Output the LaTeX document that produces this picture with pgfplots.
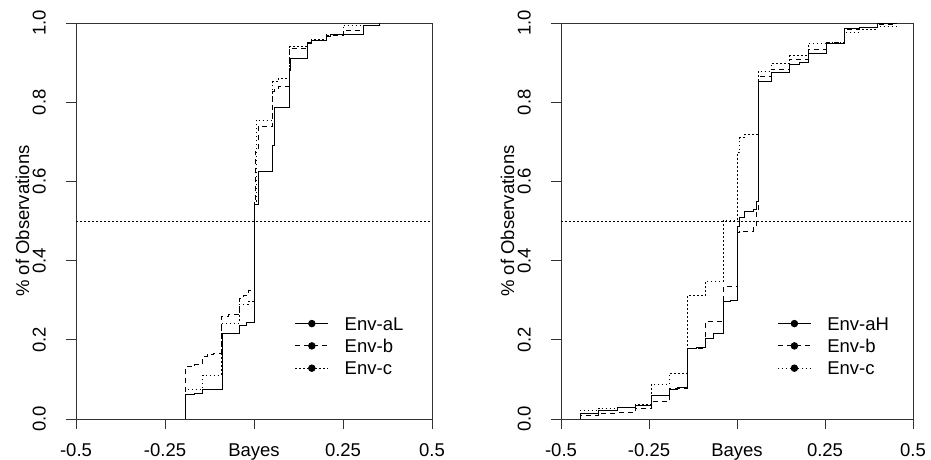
\documentclass[border=0pt]{standalone}
\usepackage{pgfplots}
\pgfplotsset{compat=1.18}
\usepackage{fontspec}
\setmainfont{Liberation Sans}

\newcommand{\lblfont}{\fontsize{18.5}{21}\selectfont}

\pgfplotsset{
  ecdfpanel/.style={
    scale only axis, height=396pt,
    xmin=-0.5, xmax=0.5, ymin=0, ymax=1,
    xtick={-0.5,-0.25,0,0.25,0.5},
    xticklabels={-0.5,-0.25,Bayes,0.25,0.5},
    ytick={0,0.2,0.4,0.6,0.8,1},
    yticklabels={0.0,0.2,0.4,0.6,0.8,1.0},
    xtick pos=left, ytick pos=left,
    tick align=outside, major tick length=10pt,
    axis line style={line width=0.8pt, black!80},
    every tick/.style={line width=0.8pt, black!80},
    tick label style={font=\lblfont, inner sep=0pt},
    xticklabel style={anchor=base, yshift=-27.5pt},
    yticklabel style={xshift=-20.5pt, rotate=90, anchor=base},
    ylabel={\% of Observations},
    legend style={draw=none, fill=none, inner sep=0pt, outer sep=0pt,
      at={(rel axis cs:0.615,0.258)}, anchor=north west,
      font=\lblfont, row sep=8.8pt,
      /tikz/every odd column/.append style={column sep=16pt},
      nodes={inner sep=0pt, text height=13.5pt, text depth=0pt}},
    legend cell align=left,
    legend image code/.code={
      \draw[##1, mark=*, mark size=3.3pt, mark options={solid, fill=black},
        mark repeat=2, mark phase=2]
        plot coordinates {(0pt,0pt) (16.5pt,0pt) (33pt,0pt)};
    },
  },
  sA/.style={black, line width=0.8pt, const plot},
  sB/.style={black, line width=0.8pt, const plot, dash pattern=on 5pt off 4pt},
  sC/.style={black, line width=0.8pt, const plot, dash pattern=on 1.5pt off 2.5pt},
}

\begin{document}
\begin{tikzpicture}
\path[use as bounding box] (0pt,0pt) rectangle (931pt,459pt);

% ---------------- low-variance environment ----------------
\begin{axis}[ecdfpanel, width=356pt, at={(76pt,40pt)}, anchor=south west,
  every axis y label/.style={at={(axis description cs:-0.1320,0.5)},
    rotate=90, anchor=base, font=\lblfont, inner sep=0pt}]
\addplot[sA] coordinates {
 (-0.192,0) (-0.192,0.061) (-0.167,0.065) (-0.144,0.075) (-0.090,0.216)
 (-0.041,0.237) (-0.020,0.243) (0.0,0.542) (0.011,0.625) (0.053,0.690)
 (0.056,0.787) (0.100,0.880) (0.103,0.911) (0.151,0.949) (0.161,0.956)
 (0.203,0.966) (0.214,0.970) (0.250,0.970) (0.306,0.993) (0.353,1.0)};
\addlegendentry{Env-aL}
\addplot[sB] coordinates {
 (-0.192,0) (-0.192,0.132) (-0.167,0.137) (-0.144,0.157) (-0.132,0.163)
 (-0.115,0.166) (-0.092,0.258) (-0.072,0.264) (-0.041,0.305) (-0.030,0.312)
 (-0.016,0.326) (0.0,0.55) (0.003,0.675) (0.011,0.738) (0.053,0.827)
 (0.058,0.835) (0.068,0.840) (0.100,0.936) (0.151,0.950) (0.161,0.956)
 (0.203,0.968) (0.250,0.982) (0.306,0.993) (0.353,1.0)};
\addlegendentry{Env-b}
\addplot[sC] coordinates {
 (-0.192,0) (-0.192,0.075) (-0.144,0.111) (-0.092,0.242) (-0.041,0.290)
 (-0.016,0.296) (0.0,0.55) (0.006,0.755) (0.053,0.852) (0.068,0.860)
 (0.100,0.940) (0.151,0.950) (0.161,0.958) (0.203,0.970) (0.250,0.995)
 (0.306,0.995) (0.353,1.0)};
\addlegendentry{Env-c}
\addplot[sC, forget plot] coordinates {(-0.5,0.5) (0.5,0.5)};
\end{axis}

% ---------------- high-variance environment ----------------
\begin{axis}[ecdfpanel, width=352pt, at={(561pt,40pt)}, anchor=south west,
  every axis y label/.style={at={(axis description cs:-0.1335,0.5)},
    rotate=90, anchor=base, font=\lblfont, inner sep=0pt}]
\addplot[sA] coordinates {
 (-0.445,0) (-0.445,0.015) (-0.393,0.021) (-0.341,0.029) (-0.289,0.034)
 (-0.244,0.059) (-0.192,0.076) (-0.170,0.080) (-0.142,0.179) (-0.115,0.182)
 (-0.090,0.204) (-0.067,0.215) (-0.039,0.297) (-0.020,0.300) (0.0,0.486)
 (0.007,0.510) (0.020,0.524) (0.046,0.530) (0.056,0.549) (0.060,0.852)
 (0.098,0.875) (0.150,0.896) (0.178,0.900) (0.202,0.924) (0.254,0.948)
 (0.306,0.987) (0.349,0.990) (0.400,1.0) (0.453,1.0)};
\addlegendentry{Env-aH}
\addplot[sB] coordinates {
 (-0.445,0) (-0.445,0.008) (-0.393,0.015) (-0.341,0.017) (-0.289,0.028)
 (-0.244,0.044) (-0.192,0.078) (-0.142,0.179) (-0.090,0.246) (-0.039,0.335)
 (0.0,0.470) (0.007,0.475) (0.046,0.486) (0.056,0.522) (0.060,0.865)
 (0.098,0.884) (0.150,0.909) (0.202,0.933) (0.254,0.950) (0.306,0.985)
 (0.349,0.990) (0.400,0.997) (0.453,1.0)};
\addlegendentry{Env-b}
\addplot[sC] coordinates {
 (-0.445,0) (-0.445,0.022) (-0.393,0.027) (-0.341,0.029) (-0.289,0.036)
 (-0.244,0.087) (-0.192,0.116) (-0.142,0.311) (-0.090,0.348) (-0.039,0.502)
 (0.0,0.672) (0.007,0.710) (0.020,0.718) (0.060,0.878) (0.098,0.899)
 (0.150,0.917) (0.202,0.948) (0.254,0.951) (0.306,0.976) (0.349,0.985)
 (0.400,0.992) (0.453,1.0)};
\addlegendentry{Env-c}
\addplot[sC, forget plot] coordinates {(-0.5,0.5) (0.5,0.5)};
\end{axis}
\end{tikzpicture}
\end{document}
